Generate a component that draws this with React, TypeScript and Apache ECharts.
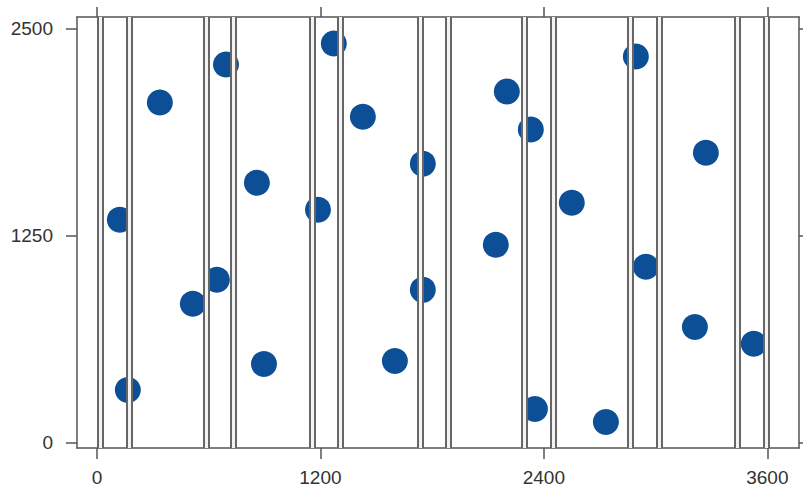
import React, { useEffect, useRef } from "react";
import * as echarts from "echarts";

const xTicks = [0, 1200, 2400, 3600];
const yTicks = [0, 1250, 2500];
const verticalLines = [16, 172, 585, 730, 1154, 1305, 1734, 1885, 2293, 2448, 2862, 3017, 3436, 3592];
const pointX = [123, 166, 338, 515, 644, 693, 859, 897, 1187, 1272, 1428, 1600, 1750, 1750, 2142, 2201, 2330, 2352, 2550, 2733, 2894, 2948, 3211, 3270, 3527];
const pointY = [1345, 317, 2053, 838, 983, 2283, 1569, 475, 1406, 2410, 1968, 493, 1684, 922, 1194, 2120, 1890, 203, 1448, 124, 2331, 1061, 698, 1750, 596];

const X_MIN = -107;
const X_MAX = 3770;
const Y_MIN = -33;
const Y_MAX = 2570;

export default function App() {
  const ref = useRef<HTMLDivElement>(null);
  useEffect(() => {
    if (!ref.current) return;
    const chart = echarts.init(ref.current, null, { renderer: "svg" });
    const axisLineStyle = { color: "#555", width: 1.5 };
    const font = { fontFamily: "Liberation Sans, Arial, sans-serif", fontSize: 19, color: "#333", formatter: (v: number) => String(v) };
    const points = pointX.map((x, i) => [x, pointY[i]]);
    const lineData = verticalLines.map((v) => ({ xAxis: v }));
    chart.setOption({
      animation: false,
      backgroundColor: "#fff",
      grid: { left: 77, right: 4, top: 17, bottom: 44, containLabel: false },
      xAxis: [
        {
          type: "value",
          position: "bottom",
          min: X_MIN,
          max: X_MAX,
          axisLine: { show: true, onZero: false, lineStyle: axisLineStyle },
          axisTick: { show: true, inside: false, length: 11, customValues: xTicks, lineStyle: axisLineStyle },
          axisLabel: { show: true, customValues: xTicks, margin: 20, ...font },
          splitLine: { show: false },
        },
        {
          type: "value",
          position: "top",
          min: X_MIN,
          max: X_MAX,
          axisLine: { show: true, onZero: false, lineStyle: axisLineStyle },
          axisTick: { show: true, inside: false, length: 10, customValues: xTicks, lineStyle: axisLineStyle },
          axisLabel: { show: false },
          splitLine: { show: false },
        },
      ],
      yAxis: [
        {
          type: "value",
          position: "left",
          min: Y_MIN,
          max: Y_MAX,
          axisLine: { show: true, onZero: false, lineStyle: axisLineStyle },
          axisTick: { show: true, inside: false, length: 11, customValues: yTicks, lineStyle: axisLineStyle },
          axisLabel: { show: true, customValues: yTicks, margin: 24, ...font },
          splitLine: { show: false },
        },
        {
          type: "value",
          position: "right",
          min: Y_MIN,
          max: Y_MAX,
          axisLine: { show: true, onZero: false, lineStyle: axisLineStyle },
          axisTick: { show: true, inside: false, length: 10, customValues: yTicks, lineStyle: axisLineStyle },
          axisLabel: { show: false },
          splitLine: { show: false },
        },
      ],
      series: [
        {
          type: "scatter",
          data: [],
          z: 1,
          silent: true,
          markLine: {
            silent: true,
            symbol: "none",
            label: { show: false },
            lineStyle: { color: "#666666", width: 7, type: "solid" },
            emphasis: { disabled: true },
            data: lineData,
          },
        },
        {
          type: "scatter",
          data: [],
          z: 2,
          silent: true,
          markLine: {
            silent: true,
            symbol: "none",
            label: { show: false },
            lineStyle: { color: "#f4f4f4", width: 3, type: "solid" },
            emphasis: { disabled: true },
            data: lineData,
          },
        },
        {
          type: "scatter",
          data: points,
          z: 3,
          symbol: "circle",
          symbolSize: 26,
          itemStyle: { color: "#0c4f96", opacity: 1 },
        },
      ],
    });
    return () => chart.dispose();
  }, []);
  return (
    <div
      ref={ref}
      style={{ position: "fixed", left: 0, top: 0, width: 803, height: 492 }}
    />
  );
}
